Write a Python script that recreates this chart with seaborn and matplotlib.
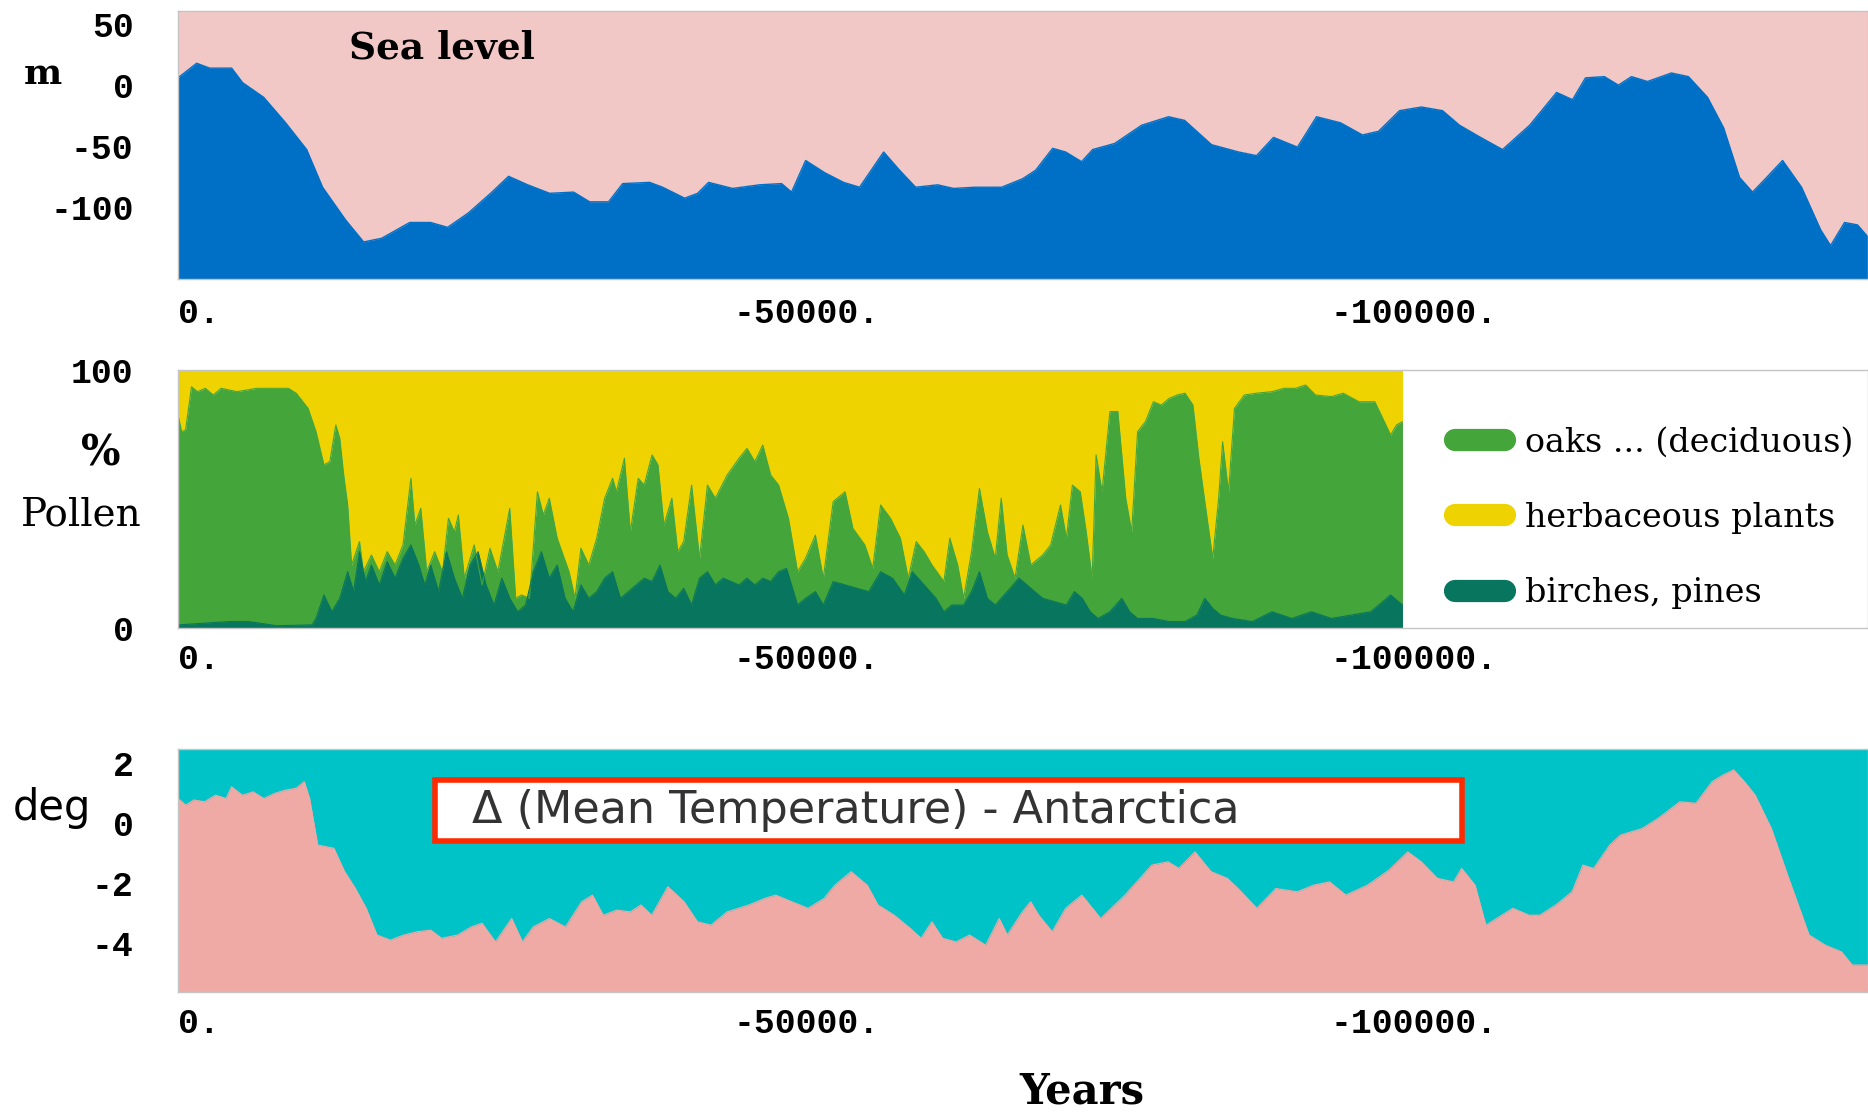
import matplotlib
matplotlib.use("Agg")
import matplotlib.pyplot as plt
from matplotlib.lines import Line2D
from matplotlib.patches import Rectangle
import seaborn as sns

# ---- data (years before present as negative numbers) ----
sea_years = [1700, 165, -905, -2716, -3620, -5350, -7160, -8890, -10200, -12100,
             -13580, -15060, -17370, -19090, -20490, -22220, -24030, -25510, -27080,
             -28890, -30860, -32180, -33740, -34900, -37120, -38190, -40000, -41070,
             -41970, -43950, -46170, -47980, -48800, -49960, -51520, -53080, -54400,
             -56380, -57690, -59010, -60820, -62140, -63860, -66090, -67820, -68890,
             -70290, -71360, -72670, -73580, -75390, -77610, -79830, -81150, -83370,
             -85590, -87070, -88470, -90440, -92010, -93990, -95790, -97110, -98840,
             -100650, -102380, -103780, -105510, -107320, -109550, -111770, -113080,
             -114150, -115700, -116860, -117930, -119250, -121220, -122620, -124190,
             -125510, -126830, -127900, -129050, -130370, -131930, -133500, -134320,
             -135470, -136540, -137400]
sea_level_m = [6, 18, 14, 14, 2, -10, -31, -53, -84, -111,
               -129, -126, -113, -113, -117, -105, -89, -75, -82,
               -89, -88, -96, -96, -81, -80, -84, -93, -89,
               -80, -85, -82, -81, -88, -62, -72, -80, -84,
               -55, -70, -84, -82, -85, -84, -84, -77, -70,
               -52, -55, -63, -53, -48, -33, -26, -29, -49,
               -55, -58, -43, -51, -26, -31, -41, -38, -21,
               -18, -21, -33, -43, -53, -33, -6, -12,
               6, 7, 0, 7, 3, 10, 7, -10,
               -35, -76, -88, -76, -62, -84, -119, -132,
               -113, -115, -125]

# cumulative tree pollen (birches + oaks); herbaceous plants fill the rest up to 100 %
tree_years = [1700, 1403, 1077, 589, 101, -550, -1201, -1851, -3153, -4780, -7383,
              -8034, -9010, -9661, -10312, -10800, -11288, -11613, -11939, -12264,
              -12590, -13240, -13566, -14217, -14867, -15518, -16169, -16820, -17471,
              -17796, -18284, -18772, -19423, -20074, -20562, -21050, -21375, -21864,
              -22677, -23328, -23979, -24629, -25606, -26094, -26582, -27233, -27883,
              -28371, -28860, -29510, -30487, -30975, -31463, -32114, -32764, -33415,
              -34066, -34391, -35042, -35530, -36181, -36669, -37320, -37808, -38296,
              -38947, -39435, -39923, -40574, -41225, -41876, -42526, -43503, -44479,
              -45130, -45780, -46431, -47082, -47733, -48546, -49298, -49949, -50762,
              -51413, -52227, -53203, -53854, -54830, -55481, -56131, -56945, -57758,
              -58409, -59060, -59711, -60362, -61338, -61826, -62477, -62965, -63616,
              -64266, -64917, -65568, -66056, -66544, -67195, -67846, -68497, -69473,
              -70124, -70937, -71425, -71913, -72564, -73052, -73540, -73866, -74354,
              -75005, -75655, -76306, -76794, -77282, -77933, -78584, -79235, -79886,
              -80536, -81187, -81838, -82326, -82814, -83465, -83953, -84279, -84767,
              -85255, -86068, -87044, -88346, -89322, -90298, -91112, -91925, -93227,
              -94203, -95505, -96806, -97457, -98108, -98596, -99084]
tree_pct = [82.6, 76.1, 76.7, 93.5, 91.6, 92.9, 90.3, 92.9, 91.6, 92.9, 92.9,
            91.0, 85.1, 76.1, 63.2, 64.5, 78.7, 73.5, 59.3, 47.7,
            24.4, 33.5, 21.8, 28.3, 21.8, 29.6, 24.4, 32.2, 58.0,
            39.9, 46.4, 21.8, 29.6, 21.8, 42.5, 37.3, 43.8, 19.3,
            32.2, 16.7, 30.9, 21.8, 46.4, 11.5, 12.8, 11.5, 52.8,
            43.8, 50.3, 34.8, 21.8, 11.5, 30.9, 24.4, 34.8, 50.3,
            58.0, 52.8, 65.8, 37.3, 58.0, 55.4, 67.1, 63.2, 39.9,
            50.3, 29.6, 33.5, 55.4, 27.0, 55.4, 50.3, 59.3, 65.8,
            69.6, 64.5, 70.9, 59.3, 55.4, 42.5, 21.8, 27.0, 36.0,
            19.3, 49.0, 52.8, 38.6, 32.2, 23.1, 47.7, 42.5, 34.8,
            19.3, 33.5, 29.6, 24.4, 18.0, 34.8, 24.4, 11.5, 29.6,
            54.1, 37.3, 27.0, 50.3, 28.3, 19.3, 39.9, 24.4, 28.3,
            32.2, 47.7, 34.8, 55.4, 52.8, 37.3, 19.3, 67.1, 52.8,
            83.9, 83.9, 50.3, 37.3, 76.1, 80.0, 87.7, 86.4, 89.0,
            90.3, 91.0, 86.4, 65.8, 49.0, 27.0, 50.3, 72.2, 52.8,
            85.1, 90.3, 91.0, 91.6, 92.9, 92.9, 94.2, 90.3, 89.7,
            91.0, 87.7, 87.7, 81.3, 74.8, 78.7, 80.0]

birch_years = [1700, -2502, -4129, -6407, -9336, -9661, -10312, -10963, -11613, -12264,
               -12752, -13240, -13729, -14217, -14867, -15518, -16169, -16820, -17471,
               -18121, -18609, -19098, -19748, -20399, -21050, -21701, -22352, -23002,
               -23653, -24304, -24955, -25606, -26256, -26907, -27558, -28209, -28860,
               -29510, -30161, -30812, -31463, -32114, -32764, -33415, -34066, -34717,
               -35368, -36018, -36669, -37320, -37971, -38622, -39272, -39923, -40574,
               -41225, -41876, -42526, -43177, -43828, -44479, -45130, -45780, -46431,
               -47082, -47733, -48384, -49298, -49949, -50762, -51413, -52227, -53203,
               -54179, -55155, -56131, -57108, -58084, -58735, -59711, -60687, -61338,
               -61989, -62965, -63616, -64266, -64917, -65568, -66544, -67520, -68497,
               -69473, -70449, -71425, -72076, -72727, -73378, -74028, -75005, -75981,
               -76631, -77282, -78584, -79886, -81187, -82163, -82814, -83465, -84116,
               -85092, -86719, -88346, -89973, -91600, -93227, -94854, -96481, -98108,
               -99084]
birch_pct = [1.2, 2.5, 2.5, 0.9, 1.2, 3.7, 12.8, 6.3, 11.5, 21.8,
             14.1, 29.6, 18.0, 24.4, 16.7, 25.7, 19.3, 27.0, 32.2,
             24.4, 16.7, 24.4, 14.1, 29.6, 19.3, 11.5, 24.4, 29.6,
             16.7, 8.9, 19.3, 11.5, 6.3, 8.9, 21.8, 29.6, 19.3,
             24.4, 11.5, 6.3, 16.7, 11.5, 14.1, 19.3, 21.8, 11.5,
             14.1, 16.7, 19.3, 18.0, 24.4, 14.1, 11.5, 15.4, 8.9,
             19.3, 21.8, 16.7, 19.3, 18.0, 16.7, 19.3, 16.7, 19.3,
             18.0, 21.8, 23.1, 8.9, 11.5, 14.1, 8.9, 18.0, 16.7,
             15.4, 14.1, 21.8, 19.3, 12.8, 21.8, 16.7, 11.5, 6.3,
             8.9, 8.9, 14.1, 21.8, 11.5, 8.9, 14.1, 19.3, 15.4,
             11.5, 10.2, 8.9, 14.1, 11.5, 6.3, 3.7, 6.3, 11.5,
             6.3, 3.7, 3.7, 2.5, 2.5, 5.0, 11.5, 7.6, 5.0,
             3.7, 2.5, 6.3, 3.7, 6.3, 3.7, 5.0, 6.3, 12.8,
             8.9]

temp_years = [1700, 1063, 398, -489, -1376, -2263, -2706, -3593, -4480, -5366,
              -6253, -7140, -8027, -8692, -9135, -9800, -11131, -12017, -12904,
              -13791, -14678, -15786, -16895, -18003, -19112, -19999, -21329, -22437,
              -23324, -24433, -25763, -26650, -27536, -28867, -30197, -31527, -32414,
              -33301, -34409, -35518, -36404, -37291, -38621, -39952, -41060, -42169,
              -43499, -45272, -46603, -47490, -48820, -50150, -51480, -52367, -53697,
              -55027, -55914, -57244, -58574, -59461, -60348, -61235, -62343, -63452,
              -64782, -65890, -66556, -67797, -68480, -69145, -70254, -71362, -72692,
              -74244, -76240, -78457, -79787, -80674, -82004, -83334, -84664, -85551,
              -87103, -88655, -90428, -91759, -93089, -94419, -96193, -97966, -99518,
              -100627, -101957, -103287, -103952, -105061, -105947, -106834, -108165,
              -109495, -110382, -111712, -113042, -113929, -114816, -116146, -117033,
              -118806, -120136, -121910, -123240, -124570, -125457, -126344, -127231,
              -128118, -129448, -130778, -131665, -132552, -133882, -135212, -136102,
              -137400]
temp_deg = [0.82, 0.60, 0.77, 0.71, 0.93, 0.82, 1.21, 0.93, 1.04, 0.82,
            0.99, 1.10, 1.16, 1.38, 0.82, -0.73, -0.84, -1.62, -2.18,
            -2.84, -3.73, -3.90, -3.73, -3.62, -3.57, -3.84, -3.73, -3.46,
            -3.34, -3.96, -3.18, -3.96, -3.46, -3.18, -3.46, -2.62, -2.40,
            -3.07, -2.90, -2.96, -2.73, -3.07, -2.12, -2.62, -3.29, -3.40,
            -2.96, -2.73, -2.51, -2.40, -2.62, -2.84, -2.51, -2.07, -1.62,
            -2.07, -2.73, -3.07, -3.51, -3.84, -3.29, -3.84, -3.96, -3.73,
            -4.07, -3.18, -3.73, -2.96, -2.62, -3.07, -3.62, -2.84, -2.40,
            -3.18, -2.40, -1.40, -1.29, -1.51, -0.96, -1.62, -1.84, -2.18,
            -2.84, -2.18, -2.29, -2.07, -1.96, -2.40, -2.07, -1.57, -0.96,
            -1.29, -1.84, -1.96, -1.51, -2.07, -3.40, -3.18, -2.84,
            -3.07, -3.07, -2.73, -2.29, -1.40, -1.51, -0.73, -0.40,
            -0.18, 0.16, 0.71, 0.66, 1.38, 1.60, 1.77, 1.38,
            0.93, -0.18, -1.73, -2.73, -3.73, -4.07, -4.29, -4.73,
            -4.73]

x_ticks = [0, -50000, -100000]
x_tick_labels = ["0.", "-50000.", "-100000."]
sea_ticks = [50, 0, -50, -100]
pollen_ticks = [100, 0]
temp_ticks = [2, 0, -2, -4]
pollen_labels = ["oaks ... (deciduous)", "herbaceous plants", "birches, pines"]

# colours
sea_sky = "#f1c8c6"
sea_blue = "#0070c6"
herb_yellow = "#eed300"
oak_green = "#44a53a"
birch_green = "#08765e"
temp_cyan = "#00c3c8"
temp_pink = "#efaaa6"

sns.set_theme(style="white")
plt.rcParams["font.family"] = ["DejaVu Sans"]
plt.rcParams["text.color"] = "black"
plt.rcParams["xtick.color"] = "black"
plt.rcParams["ytick.color"] = "black"

W, H = 1868, 1113
fig = plt.figure(figsize=(W / 100, H / 100), dpi=100)
left = 178 / W
ax_sea = fig.add_axes([left, 1 - 279 / H, 1 - left, 268 / H])
ax_pol = fig.add_axes([left, 1 - 628 / H, 1 - left, 258 / H])
ax_tmp = fig.add_axes([left, 1 - 992 / H, 1 - left, 243 / H])

tick_font = dict(family="Liberation Mono", weight="bold", size=25, color="black")

# sea level
ax_sea.set_facecolor(sea_sky)
ax_sea.fill_between(sea_years, sea_level_m, -200, color=sea_blue, lw=0)
sns.lineplot(x=sea_years, y=sea_level_m, ax=ax_sea, color=sea_blue, lw=1, sort=False)
ax_sea.set_ylim(-159.5, 61)
ax_sea.set_yticks(sea_ticks)
ax_sea.text(0.101, 0.862, "Sea level", transform=ax_sea.transAxes, ha="left", va="center",
            family="DejaVu Serif", weight="bold", size=27)

# pollen
ax_pol.set_facecolor("white")
ax_pol.fill_between(tree_years, tree_pct, 100, color=herb_yellow, lw=0)
ax_pol.fill_between(tree_years, 0, tree_pct, color=oak_green, lw=0)
ax_pol.fill_between(birch_years, 0, birch_pct, color=birch_green, lw=0)
sns.lineplot(x=tree_years, y=tree_pct, ax=ax_pol, color=oak_green, lw=0.8, sort=False)
sns.lineplot(x=birch_years, y=birch_pct, ax=ax_pol, color=birch_green, lw=0.8, sort=False)
ax_pol.set_ylim(0, 100)
ax_pol.set_yticks(pollen_ticks)
handles = [Line2D([], [], color=c, lw=16, solid_capstyle="round")
           for c in (oak_green, herb_yellow, birch_green)]
ax_pol.legend(handles, pollen_labels, loc="center left", bbox_to_anchor=(0.7556, 0.426),
              frameon=False, borderpad=0, borderaxespad=0, handlelength=1.5,
              handletextpad=0.6, labelspacing=1.3,
              prop=dict(family="DejaVu Serif", size=24))

# temperature
ax_tmp.set_facecolor(temp_cyan)
ax_tmp.fill_between(temp_years, temp_deg, -10, color=temp_pink, lw=0)
sns.lineplot(x=temp_years, y=temp_deg, ax=ax_tmp, color=temp_pink, lw=0.8, sort=False)
ax_tmp.set_ylim(-5.63, 2.47)
ax_tmp.set_yticks(temp_ticks)
ax_tmp.add_patch(Rectangle((0.152, 0.621), 0.608, 0.251, transform=ax_tmp.transAxes,
                           facecolor="white", edgecolor="#ff2a00", lw=4, zorder=5))
ax_tmp.text(0.174, 0.745, "\u0394 (Mean Temperature) - Antarctica", transform=ax_tmp.transAxes,
            ha="left", va="center", color="#333333", size=32, zorder=6)

for ax, xpad in ((ax_sea, 13), (ax_pol, 11), (ax_tmp, 11)):
    ax.set_xlim(1700, -137400)
    ax.set_xticks(x_ticks)
    ax.set_xticklabels(x_tick_labels, fontdict=tick_font)
    ax.set_yticklabels([str(t) for t in ax.get_yticks().astype(int)], fontdict=tick_font)
    ax.tick_params(axis="x", length=0, pad=xpad)
    ax.tick_params(axis="y", length=0, pad=32)
    ax.set_xlabel("")
    ax.set_ylabel("")
    for s in ax.spines.values():
        s.set_color("#c4c4c4")
        s.set_linewidth(1)

# axis titles
fig.text(43 / W, 1 - 74 / H, "m", ha="center", va="center",
         family="DejaVu Serif", weight="bold", size=26)
fig.text(101 / W, 1 - 453 / H, "%", ha="center", va="center",
         family="DejaVu Serif", weight="bold", size=30)
fig.text(81 / W, 1 - 515 / H, "Pollen", ha="center", va="center",
         family="DejaVu Serif", size=28)
fig.text(52 / W, 1 - 808 / H, "deg", ha="center", va="center", size=30)
fig.text(1082 / W, 1 - 1092 / H, "Years", ha="center", va="center",
         family="DejaVu Serif", weight="bold", size=30)

fig.savefig("out.png", dpi=100)
